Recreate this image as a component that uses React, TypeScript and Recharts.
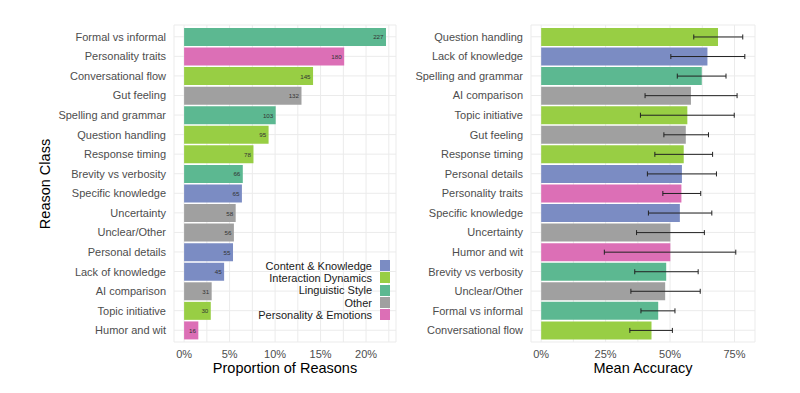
import React from 'react';
import {
  BarChart,
  Bar,
  XAxis,
  YAxis,
  CartesianGrid,
  Cell,
  LabelList,
  ErrorBar,
} from 'recharts';

const FONT = '"Liberation Sans", Arial, Helvetica, sans-serif';

const CLASS_COLORS: Record<string, string> = {
  'Content & Knowledge': '#7b8cc3',
  'Interaction Dynamics': '#98ce44',
  'Linguistic Style': '#5cb891',
  Other: '#a0a0a0',
  'Personality & Emotions': '#dc6fb6',
};
const LEGEND_ORDER = [
  'Content & Knowledge',
  'Interaction Dynamics',
  'Linguistic Style',
  'Other',
  'Personality & Emotions',
];

// left panel: how often each reason was given
const PROP_REASONS = [
  'Formal vs informal',
  'Personality traits',
  'Conversational flow',
  'Gut feeling',
  'Spelling and grammar',
  'Question handling',
  'Response timing',
  'Brevity vs verbosity',
  'Specific knowledge',
  'Uncertainty',
  'Unclear/Other',
  'Personal details',
  'Lack of knowledge',
  'AI comparison',
  'Topic initiative',
  'Humor and wit',
];
const PROP_CLASSES = [
  'Linguistic Style',
  'Personality & Emotions',
  'Interaction Dynamics',
  'Other',
  'Linguistic Style',
  'Interaction Dynamics',
  'Interaction Dynamics',
  'Linguistic Style',
  'Content & Knowledge',
  'Other',
  'Other',
  'Content & Knowledge',
  'Content & Knowledge',
  'Other',
  'Interaction Dynamics',
  'Personality & Emotions',
];
const PROP_COUNTS = [227, 180, 145, 132, 103, 95, 78, 66, 65, 58, 56, 55, 45, 31, 30, 16];
const TOTAL_REASONS = 1023;

// right panel: mean accuracy with interval
const ACC_REASONS = [
  'Question handling',
  'Lack of knowledge',
  'Spelling and grammar',
  'AI comparison',
  'Topic initiative',
  'Gut feeling',
  'Response timing',
  'Personal details',
  'Personality traits',
  'Specific knowledge',
  'Uncertainty',
  'Humor and wit',
  'Brevity vs verbosity',
  'Unclear/Other',
  'Formal vs informal',
  'Conversational flow',
];
const ACC_CLASSES = [
  'Interaction Dynamics',
  'Content & Knowledge',
  'Linguistic Style',
  'Other',
  'Interaction Dynamics',
  'Other',
  'Interaction Dynamics',
  'Content & Knowledge',
  'Personality & Emotions',
  'Content & Knowledge',
  'Other',
  'Personality & Emotions',
  'Linguistic Style',
  'Other',
  'Linguistic Style',
  'Interaction Dynamics',
];
const ACC_MEANS = [0.686, 0.645, 0.623, 0.581, 0.567, 0.561, 0.553, 0.546, 0.544, 0.538, 0.501, 0.501, 0.485, 0.481, 0.454, 0.428];
const ACC_LOW = [0.592, 0.503, 0.528, 0.403, 0.385, 0.476, 0.441, 0.412, 0.472, 0.416, 0.37, 0.245, 0.363, 0.348, 0.387, 0.344];
const ACC_HIGH = [0.782, 0.79, 0.717, 0.76, 0.749, 0.649, 0.665, 0.68, 0.619, 0.662, 0.633, 0.755, 0.609, 0.617, 0.519, 0.509];

const PROP_TICKS = [0, 0.025, 0.05, 0.075, 0.1, 0.125, 0.15, 0.175, 0.2, 0.225];
const ACC_TICKS = [0, 0.125, 0.25, 0.375, 0.5, 0.625, 0.75];

const propData = PROP_REASONS.map((reason, i) => ({
  reason,
  cls: PROP_CLASSES[i],
  count: PROP_COUNTS[i],
  prop: PROP_COUNTS[i] / TOTAL_REASONS,
}));

const accData = ACC_REASONS.map((reason, i) => ({
  reason,
  cls: ACC_CLASSES[i],
  mean: ACC_MEANS[i],
  err: [ACC_MEANS[i] - ACC_LOW[i], ACC_HIGH[i] - ACC_MEANS[i]],
}));

const tickStyle = { fill: '#4d4d4d', fontSize: 11, fontFamily: FONT };

function pctEvery(step: number) {
  return (v: number) => {
    const k = Math.round(v * 1000);
    return k % Math.round(step * 1000) === 0 ? `${Math.round(v * 100)}%` : '';
  };
}

// plain text tick so long names never wrap
function CategoryTick(props: any) {
  const { x, y, payload } = props;
  return (
    <text x={x} y={y} textAnchor="end" dominantBaseline="central" {...tickStyle}>
      {payload.value}
    </text>
  );
}

function CountLabel(props: any) {
  const { x, y, width, height, value } = props;
  return (
    <text
      x={x + width - 2.5}
      y={y + height / 2}
      textAnchor="end"
      dominantBaseline="central"
      fontSize={6.2}
      fontFamily={FONT}
      fill="#333333"
    >
      {value}
    </text>
  );
}

export default function App() {
  return (
    <div
      style={{
        position: 'absolute',
        left: 0,
        top: 0,
        width: 800,
        height: 393,
        background: '#ffffff',
        fontFamily: FONT,
      }}
    >
      <div style={{ position: 'absolute', left: 0, top: 0 }}>
        <BarChart
          width={400}
          height={393}
          data={propData}
          layout="vertical"
          margin={{ top: 25, right: 4, bottom: 31, left: 0 }}
          barCategoryGap="5%"
        >
          <CartesianGrid stroke="#ebebeb" />
          <XAxis
            type="number"
            domain={[-0.0111, 0.2329]}
            ticks={PROP_TICKS}
            interval={0}
            allowDataOverflow
            tickFormatter={pctEvery(0.05)}
            axisLine={false}
            tickLine={false}
            height={20}
            tick={tickStyle}
          />
          <YAxis
            type="category"
            dataKey="reason"
            width={174}
            interval={0}
            axisLine={false}
            tickLine={false}
            padding={{ top: 2, bottom: 2 }}
            tick={CategoryTick}
          />
          <Bar dataKey="prop" isAnimationActive={false}>
            {propData.map((d, i) => (
              <Cell key={i} fill={CLASS_COLORS[d.cls]} />
            ))}
            <LabelList dataKey="count" content={CountLabel} />
          </Bar>
        </BarChart>
      </div>

      <div style={{ position: 'absolute', left: 400, top: 0 }}>
        <BarChart
          width={400}
          height={393}
          data={accData}
          layout="vertical"
          margin={{ top: 25, right: 45, bottom: 31, left: 0 }}
          barCategoryGap="5%"
        >
          <CartesianGrid stroke="#ebebeb" />
          <XAxis
            type="number"
            domain={[-0.0395, 0.8295]}
            ticks={ACC_TICKS}
            interval={0}
            allowDataOverflow
            tickFormatter={pctEvery(0.25)}
            axisLine={false}
            tickLine={false}
            height={20}
            tick={tickStyle}
          />
          <YAxis
            type="category"
            dataKey="reason"
            width={131}
            interval={0}
            axisLine={false}
            tickLine={false}
            padding={{ top: 2, bottom: 2 }}
            tick={CategoryTick}
          />
          <Bar dataKey="mean" isAnimationActive={false}>
            {accData.map((d, i) => (
              <Cell key={i} fill={CLASS_COLORS[d.cls]} />
            ))}
            <ErrorBar
              dataKey="err"
              direction="x"
              width={2.5}
              stroke="#222222"
              strokeWidth={1}
              isAnimationActive={false}
            />
          </Bar>
        </BarChart>
      </div>

      {/* legend inside left panel */}
      <div style={{ position: 'absolute', left: 230, top: 259.5, width: 160 }}>
        {LEGEND_ORDER.map((c) => (
          <div
            key={c}
            style={{
              display: 'flex',
              justifyContent: 'flex-end',
              alignItems: 'center',
              height: 12.3,
            }}
          >
            <span style={{ fontSize: 11, lineHeight: '12px', color: '#1a1a1a', marginRight: 8, whiteSpace: 'nowrap' }}>
              {c}
            </span>
            <span style={{ width: 10, height: 11, background: CLASS_COLORS[c], display: 'inline-block' }} />
          </div>
        ))}
      </div>

      <div
        style={{
          position: 'absolute',
          left: 45,
          top: 183.5,
          transform: 'translate(-50%, -50%) rotate(-90deg)',
          fontSize: 14.5,
          color: '#000',
          whiteSpace: 'nowrap',
        }}
      >
        Reason Class
      </div>
      <div
        style={{
          position: 'absolute',
          left: 185,
          width: 200,
          top: 359,
          textAlign: 'center',
          fontSize: 14.5,
          lineHeight: '18px',
          color: '#000',
        }}
      >
        Proportion of Reasons
      </div>
      <div
        style={{
          position: 'absolute',
          left: 543,
          width: 200,
          top: 359,
          textAlign: 'center',
          fontSize: 14.5,
          lineHeight: '18px',
          color: '#000',
        }}
      >
        Mean Accuracy
      </div>
    </div>
  );
}
